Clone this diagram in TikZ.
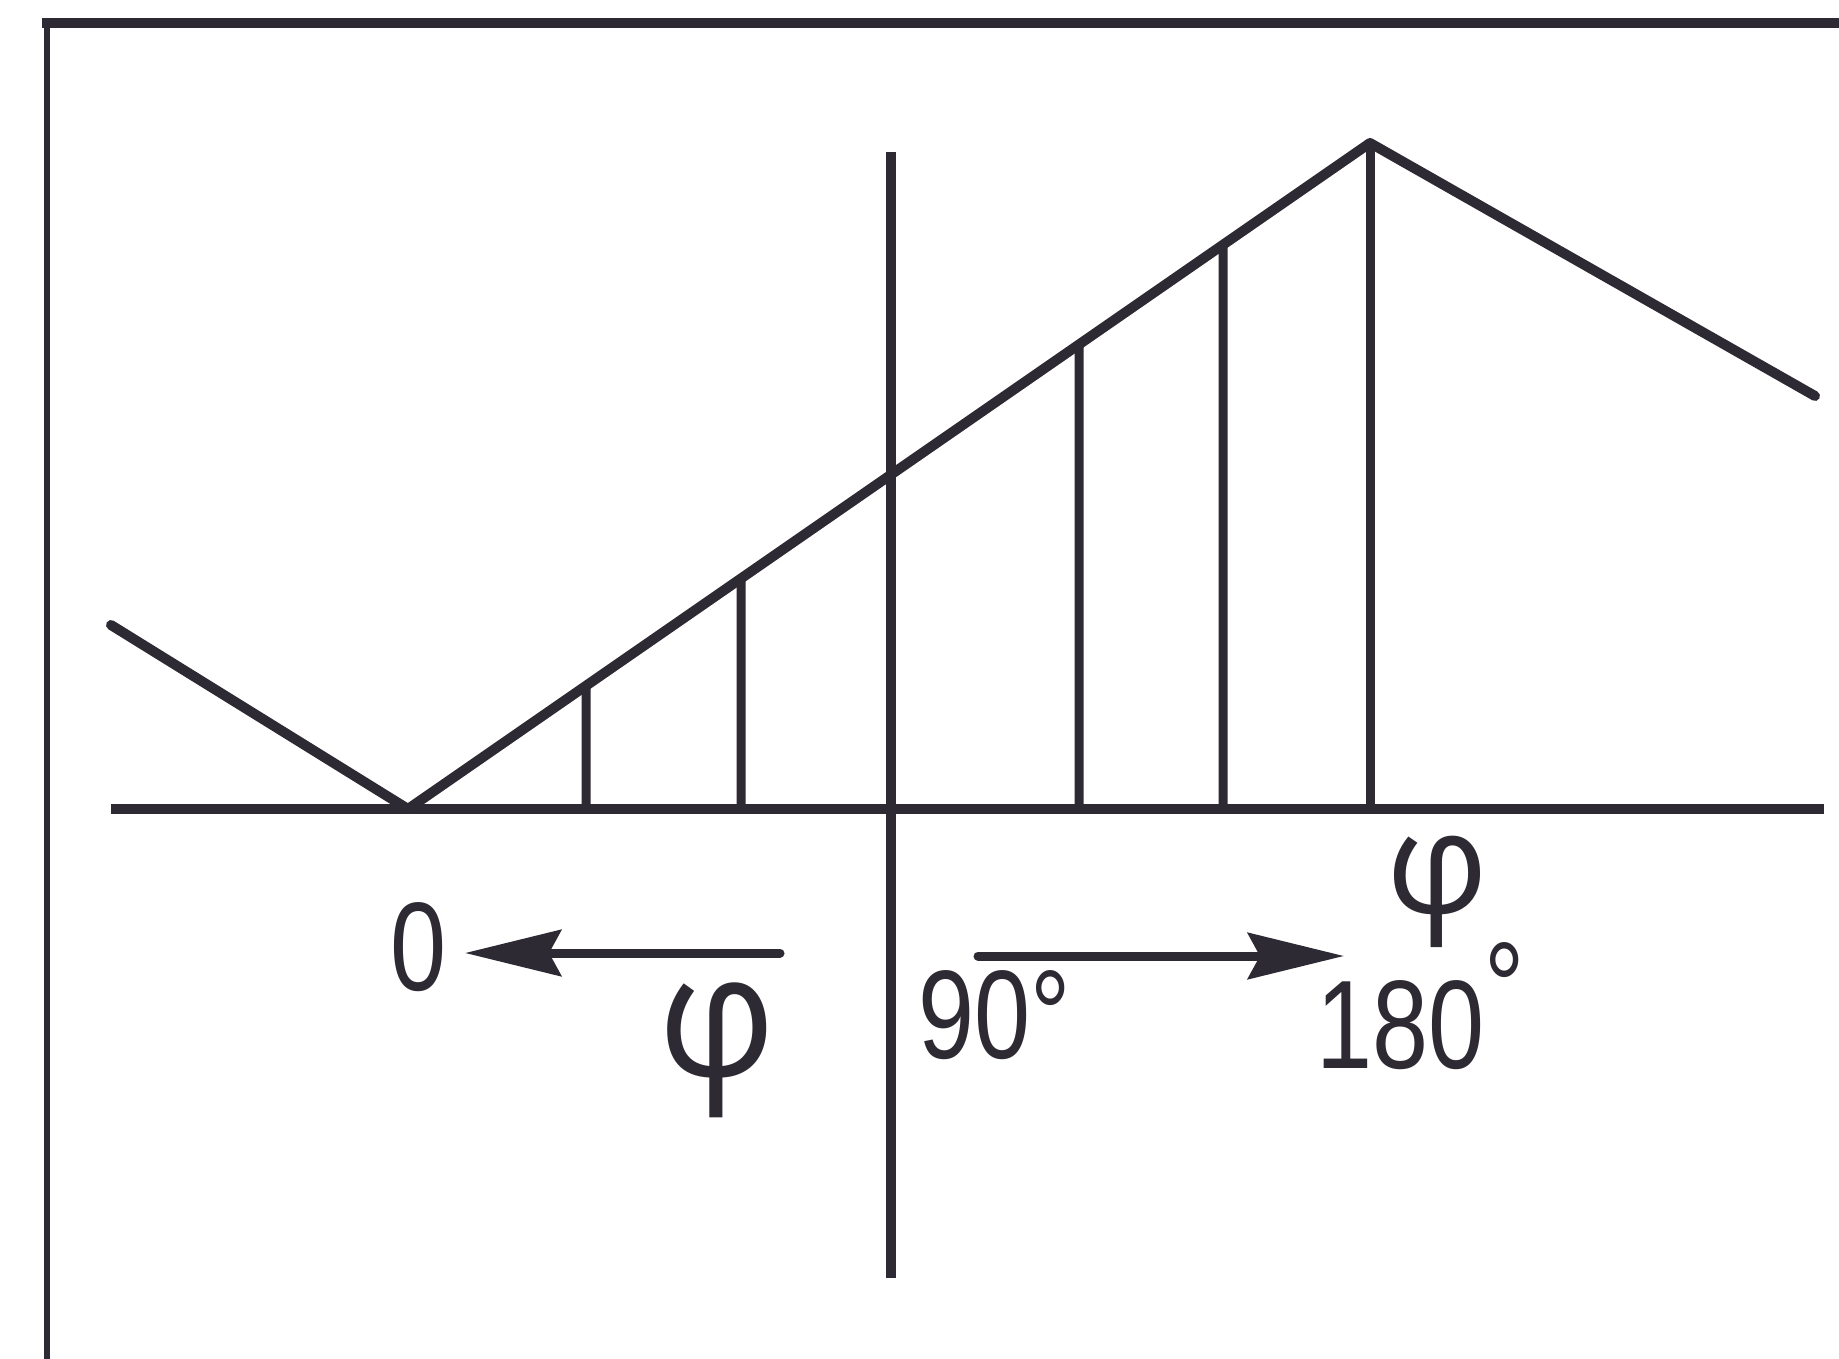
\documentclass[tikz,border=0pt]{standalone}
\usepackage{fontspec}
\setmainfont{Liberation Sans}
\newfontfamily\phifont{Open Sans}
\usetikzlibrary{arrows.meta,calc}
\definecolor{ink}{HTML}{2E2A33}
\tikzset{
  frameleft/.style={draw=ink, line width=6pt},
  frametop/.style={draw=ink, line width=10pt},
  axisline/.style={draw=ink, line width=10pt},
  curveline/.style={draw=ink, line width=10pt, line cap=round, line join=round},
  tickline/.style={draw=ink, line width=9pt},
  dirarrow/.style={draw=ink, line width=9pt, line cap=round, -{Stealth[length=96pt, width=46pt, inset=12pt]}},
  lbl/.style={text=ink, inner sep=0pt, font=\fontsize{126}{130}\selectfont, xscale=0.8},
  philbl/.style={text=ink, inner sep=0pt}
}
\begin{document}
\begin{tikzpicture}[x=1pt, y=-1pt]
  \useasboundingbox (0,0) rectangle (1839,1359);
  \fill[white] (0,0) rectangle (1839,1359);
  % frame
  \coordinate (fTL) at (47,23);
  \coordinate (fBL) at (47,1359);
  \coordinate (fTLb) at (42,23);
  \coordinate (fTR) at (1839,23);
  \draw[frameleft] (fBL) -- (fTL);
  \draw[frametop] (fTLb) -- (fTR);
  % axes
  \coordinate (hL) at (111,809);
  \coordinate (hR) at (1824,809);
  \coordinate (vT) at (891,152);
  \coordinate (vB) at (891,1278);
  \draw[axisline] (hL) -- (hR);
  \draw[axisline] (vT) -- (vB);
  % characteristic
  \coordinate (s0) at (111,625);
  \coordinate (A) at (408,809);
  \coordinate (P) at (1370,143);
  \coordinate (s1) at (1815,396);
  \draw[curveline] (s0) -- (A) -- (P) -- (s1);
  % ticks
  \foreach \x [count=\i] in {586,741,1079,1223} {
    \coordinate (tb\i) at (\x,809);
    \coordinate (tt\i) at ($(A)!{(\x-408)/962}!(P)$);
    \draw[tickline] (tb\i) -- (tt\i);
  }
  \coordinate (tb5) at (1370,809);
  \draw[tickline] (tb5) -- (P);
  % labels
  \node[lbl, anchor=base] (zero) at (419,990) {0};
  \coordinate (la0) at (780,953);
  \coordinate (la1) at (465,953);
  \draw[dirarrow] (la0) -- (la1);
  \node[philbl, font=\phifont\fontsize{172}{172}\selectfont, xscale=0.95] (phiL) at (717,1050) {φ};
  \node[lbl, anchor=base west] (ninety) at (918,1058) {90°};
  \coordinate (ra0) at (978,956);
  \coordinate (ra1) at (1344,956);
  \draw[dirarrow] (ra0) -- (ra1);
  \node[philbl, font=\phifont\fontsize{142}{142}\selectfont] (phiR) at (1437,892) {φ};
  \node[lbl, anchor=base west] (oneeighty) at (1316,1068) {180\raisebox{0.3em}{°}};
\end{tikzpicture}
\end{document}
